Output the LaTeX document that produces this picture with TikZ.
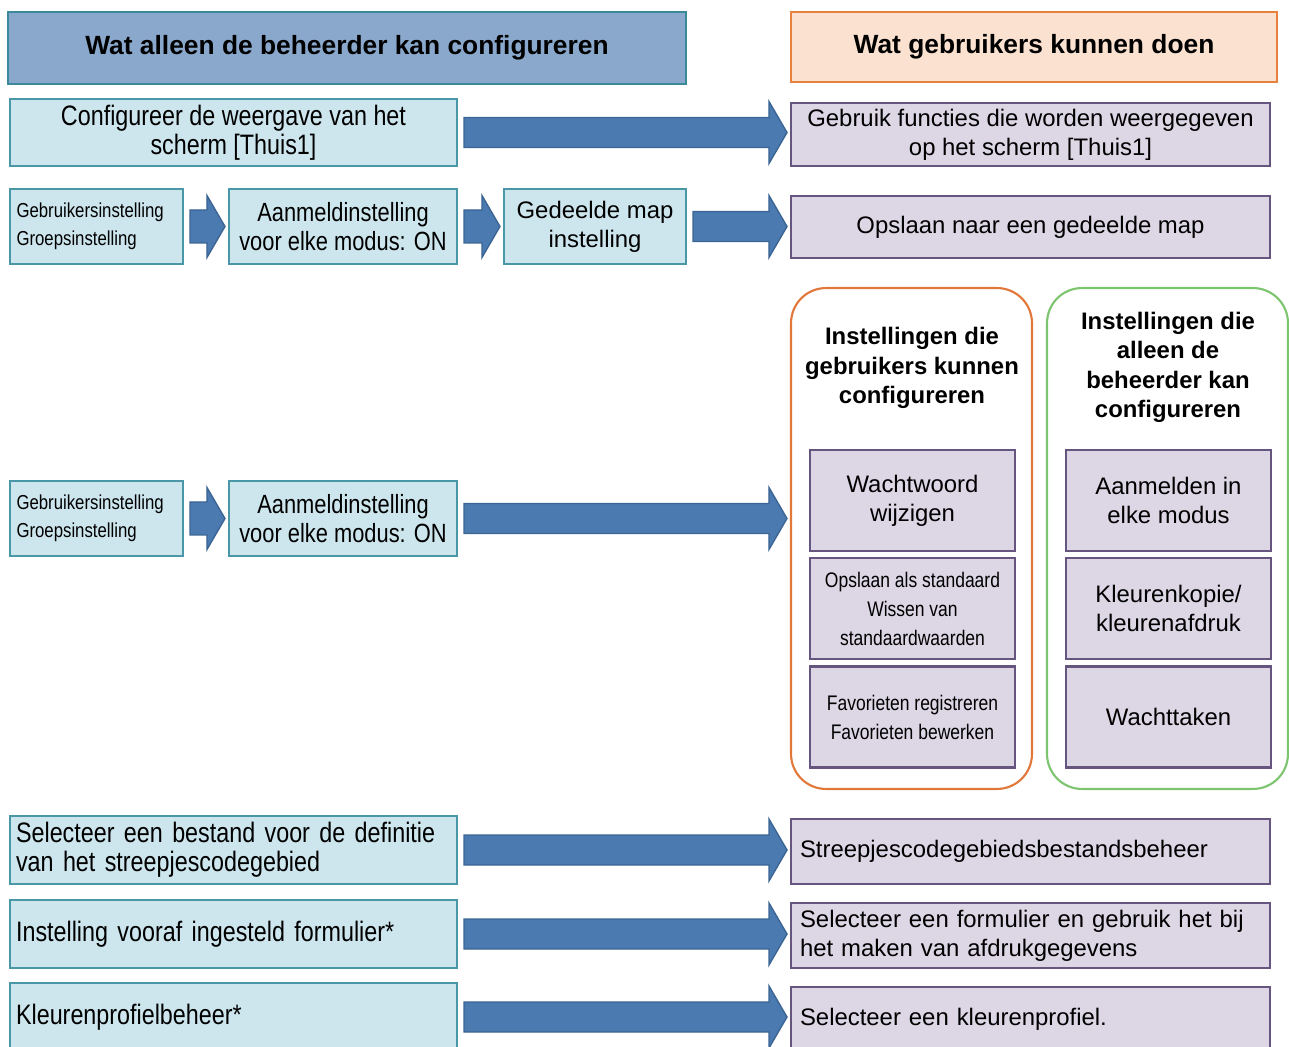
\documentclass[tikz,border=0pt]{standalone}
\usepackage{fontspec}
\setmainfont{Liberation Sans}
\newfontfamily\narrowfont[FakeStretch=0.83]{Liberation Sans}
\usepackage{tikz}
\usetikzlibrary{positioning, calc}

\definecolor{hdrblue}{HTML}{89A8CC}
\definecolor{hdrteal}{HTML}{3A8A9C}
\definecolor{hdrpeach}{HTML}{FBE1D0}
\definecolor{hdrorange}{HTML}{E8803E}
\definecolor{boxblue}{HTML}{CDE6EE}
\definecolor{boxteal}{HTML}{4A97A8}
\definecolor{boxlav}{HTML}{DCD6E5}
\definecolor{boxpurple}{HTML}{66557F}
\definecolor{grporange}{HTML}{E2773A}
\definecolor{grpgreen}{HTML}{7CC46E}
\definecolor{arrowblue}{HTML}{4A7AB0}
\definecolor{arrowedge}{HTML}{3C6594}

\tikzset{
  hdrbox/.style={draw, line width=1.2pt, font=\bfseries\fontsize{15}{18}\selectfont},
  adminbox/.style={draw=boxteal, fill=boxblue, line width=1.2pt, align=center},
  userbox/.style={draw=boxpurple, fill=boxlav, line width=1.2pt, align=center},
  groupbox/.style={draw, rounded corners=0.7cm, line width=1.2pt},
  fatarrow/.style={fill=arrowblue, draw=arrowedge, line width=0.8pt},
  txtreg/.style={font=\fontsize{13.6}{16.7}\selectfont},
  txtnarrow/.style={font=\narrowfont\fontsize{16}{16.7}\selectfont},
  txtmid/.style={font=\narrowfont\fontsize{15}{16.7}\selectfont},
  txtsmall/.style={font=\narrowfont\fontsize{12}{16.5}\selectfont},
  txttiny/.style={font=\narrowfont\fontsize{11.5}{16}\selectfont},
  txttitle/.style={font=\bfseries\fontsize{13.6}{16.8}\selectfont, align=center}
}

% dikke pijl van knoop #2 naar knoop #3, #1 = halve dikte van de schacht
\newcommand{\fatarrow}[3][15]{%
  \draw[fatarrow] ($(#2.east)+(6,-#1)$) -- ($(#2.east -| #3.west)+(-21,-#1)$)
    -- ($(#2.east -| #3.west)+(-21,-31)$) -- ($(#2.east -| #3.west)+(-3,0)$)
    -- ($(#2.east -| #3.west)+(-21,31)$) -- ($(#2.east -| #3.west)+(-21,#1)$)
    -- ($(#2.east)+(6,#1)$) -- cycle;}

\begin{document}
\begin{tikzpicture}[x=0.02cm, y=-0.02cm]
    \clip (0,0) rectangle (1289,1047);

    % Kopteksten
    \node[hdrbox, draw=hdrteal, fill=hdrblue, minimum width=13.56cm, minimum height=1.44cm] (hdradmin) at (347,48) {Wat alleen de beheerder kan configureren};
    \node[hdrbox, draw=hdrorange, fill=hdrpeach, minimum width=9.72cm, minimum height=1.4cm] (hdruser) at (1034,47) {Wat gebruikers kunnen doen};

    % Rij 1: scherm Thuis1
    \node[adminbox, txtnarrow, minimum width=8.94cm, minimum height=1.34cm] (cfghome) at (233.5,132.5) {Configureer de weergave van het\\scherm [Thuis1]};
    \node[userbox, txtreg, minimum width=9.58cm, minimum height=1.26cm] (usehome) at (1030.5,134.5) {Gebruik functies die worden weergegeven\\op het scherm [Thuis1]};

    % Rij 2: gedeelde map
    \node[adminbox, txttiny, align=left, text width=3.2cm, inner xsep=0.13cm, minimum height=1.5cm] (usrset1) at (96.5,226.5) {Gebruikersinstelling\\Groepsinstelling};
    \node[adminbox, txtmid, minimum width=4.56cm, minimum height=1.5cm] (logon1) at (343,226.5) {Aanmeldinstelling\\voor elke modus: ON};
    \node[adminbox, txtreg, minimum width=3.64cm, minimum height=1.5cm] (mapset) at (595,226.5) {Gedeelde map\\instelling};
    \node[userbox, txtreg, minimum width=9.58cm, minimum height=1.24cm] (savemap) at (1030.5,227) {Opslaan naar een gedeelde map};

    % Rij 3: instellingen per gebruiker
    \node[adminbox, txttiny, align=left, text width=3.2cm, inner xsep=0.13cm, minimum height=1.5cm] (usrset2) at (96.5,518.5) {Gebruikersinstelling\\Groepsinstelling};
    \node[adminbox, txtmid, minimum width=4.56cm, minimum height=1.5cm] (logon2) at (343,518.5) {Aanmeldinstelling\\voor elke modus: ON};

    \node[groupbox, draw=grporange, minimum width=4.82cm, minimum height=10.02cm] (grpuser) at (911.5,538.5) {};
    \node[groupbox, draw=grpgreen, minimum width=4.82cm, minimum height=10.02cm] (grpadmin) at (1167.5,538.5) {};
    \node[txttitle] (ttluser) at (912,368) {Instellingen die\\gebruikers kunnen\\configureren};
    \node[txttitle] (ttladmin) at (1168,367.5) {Instellingen die\\alleen de\\beheerder kan\\configureren};

    \node[userbox, txtreg, minimum width=4.1cm, minimum height=2.02cm] (passwd) at (912.5,500.5) {Wachtwoord\\wijzigen};
    \node[userbox, txtsmall, minimum width=4.1cm, minimum height=2.02cm] (defaults) at (912.5,608.5) {Opslaan als standaard\\Wissen van\\standaardwaarden};
    \node[userbox, txtsmall, minimum width=4.1cm, minimum height=2.02cm] (favs) at (912.5,717) {Favorieten registreren\\Favorieten bewerken};
    \node[userbox, txtreg, minimum width=4.1cm, minimum height=2.02cm] (logonmode) at (1168.5,500.5) {Aanmelden in\\elke modus};
    \node[userbox, txtreg, minimum width=4.1cm, minimum height=2.02cm] (colcopy) at (1168.5,608.5) {Kleurenkopie/\\kleurenafdruk};
    \node[userbox, txtreg, minimum width=4.1cm, minimum height=2.02cm] (jobs) at (1168.5,717) {Wachttaken};

    % Onderste rijen
    \node[adminbox, txtnarrow, align=left, text width=8.7cm, inner xsep=0.12cm, minimum height=1.36cm] (barfile) at (233.5,850) {Selecteer een bestand voor de definitie\\van het streepjescodegebied};
    \node[userbox, txtreg, align=left, text width=9.22cm, inner xsep=0.18cm, minimum height=1.3cm] (barmgmt) at (1030.5,851.5) {Streepjescodegebiedsbestandsbeheer};
    \node[adminbox, txtnarrow, align=left, text width=8.7cm, inner xsep=0.12cm, minimum height=1.36cm] (formset) at (233.5,934) {Instelling vooraf ingesteld formulier*};
    \node[userbox, txtreg, align=left, text width=9.22cm, inner xsep=0.18cm, minimum height=1.3cm] (formuse) at (1030.5,935.5) {Selecteer een formulier en gebruik het bij\\het maken van afdrukgegevens};
    \node[adminbox, txtnarrow, align=left, text width=8.7cm, inner xsep=0.12cm, minimum height=1.36cm] (profmgmt) at (233.5,1017) {Kleurenprofielbeheer*};
    \node[userbox, txtreg, align=left, text width=9.22cm, inner xsep=0.18cm, minimum height=1.3cm] (profsel) at (1030.5,1019.5) {Selecteer een kleurenprofiel.};

    % Pijlen
    \fatarrow{cfghome}{usehome}
    \fatarrow[16.5]{usrset1}{logon1}
    \fatarrow[16.5]{logon1}{mapset}
    \fatarrow{mapset}{savemap}
    \fatarrow[16.5]{usrset2}{logon2}
    \fatarrow{logon2}{grpuser}
    \fatarrow{barfile}{barmgmt}
    \fatarrow{formset}{formuse}
    \fatarrow{profmgmt}{profsel}
\end{tikzpicture}
\end{document}
